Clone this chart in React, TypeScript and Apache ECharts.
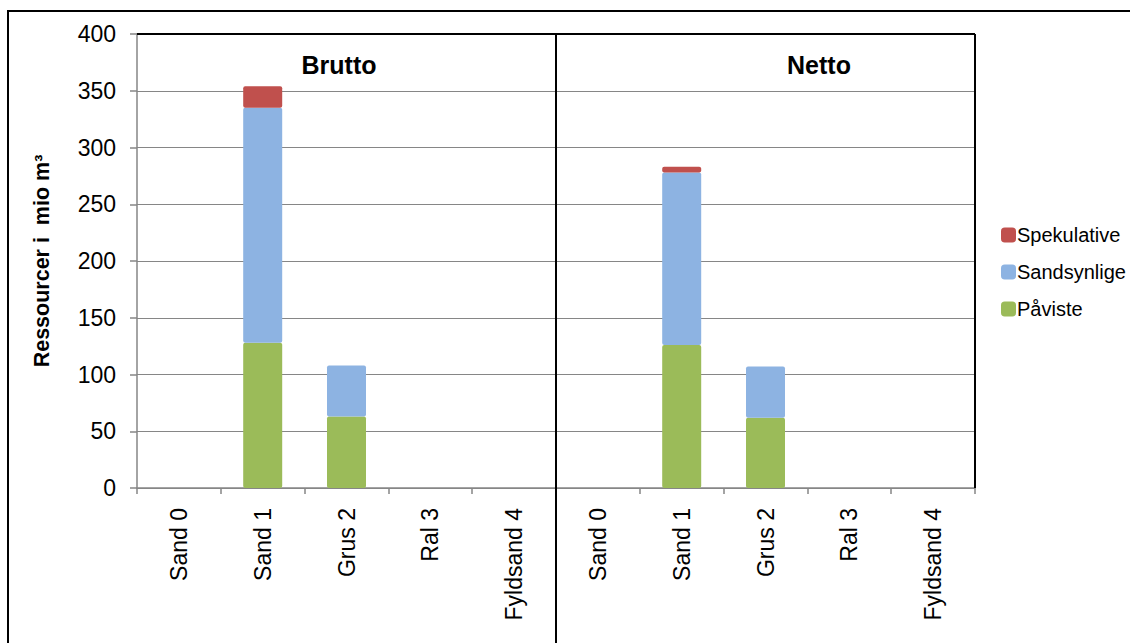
import React, { useEffect, useRef } from "react";
import * as echarts from "echarts";

const categories = ["Sand 0", "Sand 1", "Grus 2", "Ral 3", "Fyldsand 4"];
const bruttoPaviste = [0, 128, 63, 0, 0];
const bruttoSandsynlige = [0, 207, 45, 0, 0];
const bruttoSpekulative = [0, 19, 0, 0, 0];
const nettoPaviste = [0, 126, 62, 0, 0];
const nettoSandsynlige = [0, 152, 45, 0, 0];
const nettoSpekulative = [0, 5, 0, 0, 0];
const panelTitles = ["Brutto", "Netto"];
const yTitle = "Ressourcer i  mio m³";
const legendNames = ["Spekulative", "Sandsynlige", "Påviste"];

const GREEN = "#9BBB59";
const BLUE = "#8DB3E2";
const RED = "#C0504D";
const GRAY = "#868686";
const FONT = "Liberation Sans, Arial, sans-serif";

export default function App() {
  const ref = useRef<HTMLDivElement>(null);
  useEffect(() => {
    if (!ref.current) return;
    const chart = echarts.init(ref.current, null, { renderer: "svg" });
    const gridTop = 34;
    const gridH = 454;
    const g1Left = 137;
    const gW = 419;
    const g2Left = g1Left + gW;

    const xAxisCommon = (gi: number) => ({
      type: "category",
      gridIndex: gi,
      data: categories,
      axisLine: { lineStyle: { color: GRAY, width: 1.5 } },
      axisTick: { show: true, length: 6, lineStyle: { color: GRAY, width: 1.5 } },
      axisLabel: {
        rotate: 90,
        color: "#000",
        fontSize: 23,
        fontFamily: FONT,
        margin: 20,
        interval: 0,
      },
    });

    const yAxisCommon = (gi: number) => ({
      type: "value",
      gridIndex: gi,
      min: 0,
      max: 400,
      interval: 50,
      splitLine: { show: true, lineStyle: { color: GRAY, width: 1 } },
      axisLine: { show: gi === 0, lineStyle: { color: GRAY, width: 1.5 } },
      axisTick: { show: gi === 0, length: 7, lineStyle: { color: GRAY, width: 1.5 } },
      axisLabel: {
        show: gi === 0,
        color: "#000",
        fontSize: 23,
        fontFamily: FONT,
        margin: 21,
      },
      name: gi === 0 ? yTitle : "",
      nameLocation: "middle",
      nameGap: 84,
      nameTextStyle: { fontSize: 21.5, fontWeight: "bold", fontFamily: FONT, color: "#000" },
    });

    const mkSeries = (gi: number, name: string, data: number[], color: string) => ({
      type: "bar",
      name,
      xAxisIndex: gi,
      yAxisIndex: gi,
      stack: "s" + gi,
      data,
      barWidth: 39,
      itemStyle: { color, borderRadius: 2 },
    });

    chart.setOption({
      animation: false,
      backgroundColor: "#fff",
      title: [
        {
          text: panelTitles[0],
          left: 334,
          top: 47,
          textAlign: "center",
          textStyle: { fontSize: 25, fontWeight: "bold", fontFamily: FONT, color: "#000" },
        },
        {
          text: panelTitles[1],
          left: 814,
          top: 47,
          textAlign: "center",
          textStyle: { fontSize: 25, fontWeight: "bold", fontFamily: FONT, color: "#000" },
        },
      ],
      legend: {
        data: legendNames,
        orient: "vertical",
        left: 996,
        top: 220,
        itemWidth: 15,
        itemHeight: 15,
        itemGap: 17,
        icon: "roundRect",
        textStyle: { fontSize: 20, fontFamily: FONT, color: "#000", padding: [0, 0, 0, -4] },
      },
      grid: [
        { left: g1Left, top: gridTop, width: gW, height: gridH, containLabel: false },
        { left: g2Left, top: gridTop, width: gW, height: gridH, containLabel: false },
      ],
      xAxis: [xAxisCommon(0), xAxisCommon(1)],
      yAxis: [yAxisCommon(0), yAxisCommon(1)],
      series: [
        mkSeries(0, "Påviste", bruttoPaviste, GREEN),
        mkSeries(0, "Sandsynlige", bruttoSandsynlige, BLUE),
        mkSeries(0, "Spekulative", bruttoSpekulative, RED),
        mkSeries(1, "Påviste", nettoPaviste, GREEN),
        mkSeries(1, "Sandsynlige", nettoSandsynlige, BLUE),
        mkSeries(1, "Spekulative", nettoSpekulative, RED),
      ],
      graphic: [
        {
          type: "rect",
          shape: { x: 8, y: 11, width: 1300, height: 800 },
          style: { fill: "none", stroke: "#000", lineWidth: 2 },
          silent: true,
        },
        {
          type: "line",
          shape: { x1: g1Left, y1: gridTop, x2: g1Left + 2 * gW, y2: gridTop },
          style: { stroke: "#000", lineWidth: 2 },
          z: 10,
        },
        {
          type: "line",
          shape: { x1: g1Left + 2 * gW, y1: gridTop, x2: g1Left + 2 * gW, y2: gridTop + gridH },
          style: { stroke: "#000", lineWidth: 2 },
          z: 10,
        },
        {
          type: "line",
          shape: { x1: g2Left, y1: gridTop, x2: g2Left, y2: 660 },
          style: { stroke: "#000", lineWidth: 2 },
          z: 10,
        },
      ],
    });
    return () => chart.dispose();
  }, []);
  return (
    <div
      ref={ref}
      style={{ position: "fixed", left: 0, top: 0, width: 1130, height: 643 }}
    />
  );
}
